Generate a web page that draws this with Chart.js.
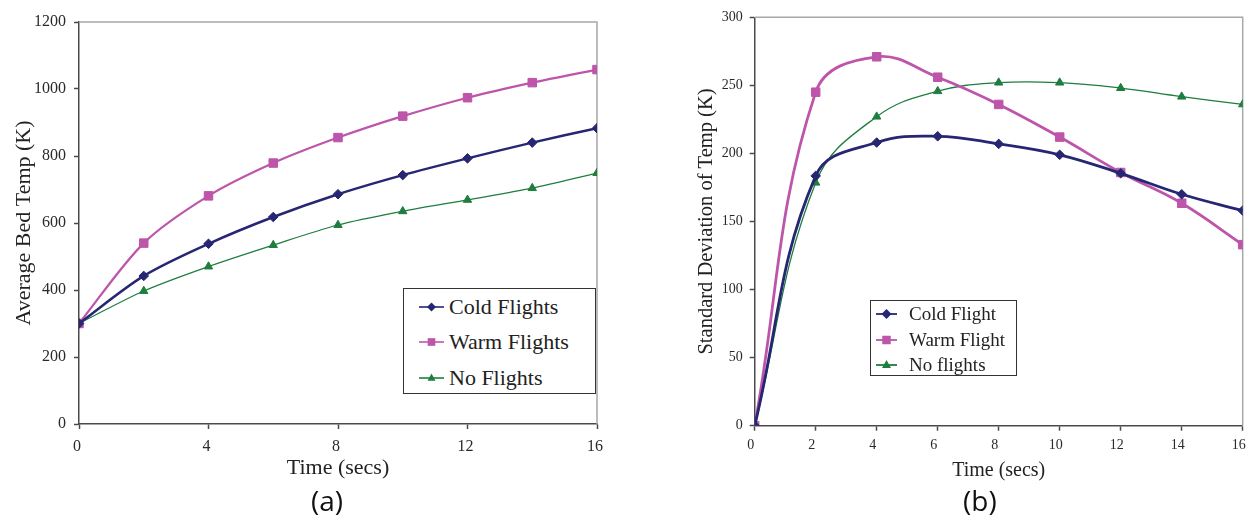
<!DOCTYPE html>
<html>
<head>
<meta charset="utf-8">
<script src="https://cdn.jsdelivr.net/npm/chart.js@4"></script>
<style>
  html,body{margin:0;padding:0;background:#fff;overflow:hidden;}
  #wrap{position:relative;width:1248px;height:519px;overflow:hidden;background:#fff;}
  .pane{position:absolute;top:0;}
  .legend{position:absolute;border:1.5px solid #333;background:#fff;box-sizing:border-box;font-family:"Liberation Serif",serif;color:#222;}
  .row{position:absolute;left:0;white-space:nowrap;display:flex;align-items:center;}
  .tag{position:absolute;font-family:"Open Sans",sans-serif;font-size:28px;line-height:28px;color:#111;}
</style>
</head>
<body>
<div id="wrap">
  <div class="pane" style="left:0;width:620px;height:519px;"><canvas id="chartA" width="620" height="519"></canvas></div>
  <div class="pane" style="left:620px;width:640px;height:519px;"><canvas id="chartB" width="640" height="519"></canvas></div>
  <div id="legendA" class="legend" style="left:403px;top:288px;width:193px;height:106px;font-size:22px;"></div>
  <div id="legendB" class="legend" style="left:870px;top:300px;width:147px;height:76px;font-size:19px;"></div>
  <div class="tag" style="left:311px;top:486px;">(a)</div>
  <div class="tag" style="left:963px;top:486px;">(b)</div>
</div>
<script>
// ---------- data ----------
const time = [0, 2, 4, 6, 8, 10, 12, 14, 16];

// (a) Average bed temperature (K)
const avgCold = [300, 442, 538, 618, 686, 743, 793, 840, 883];
const avgWarm = [300, 540, 681, 779, 855, 919, 974, 1019, 1058];
const avgNone = [300, 397, 470, 534, 594, 635, 669, 704, 749];

// (b) Standard deviation of temperature (K)
const sdCold = [0, 183.5, 208, 212.6, 207, 199, 185.4, 170, 158];
const sdWarm = [0, 245, 271, 256, 236, 212, 186, 163.4, 133];
const sdNone = [0, 178.5, 227, 245.7, 252, 252, 248, 241.7, 236];

const namesA = ['Cold Flights', 'Warm Flights', 'No Flights'];
const namesB = ['Cold Flight', 'Warm Flight', 'No flights'];

const xTicksA = [0, 4, 8, 12, 16];
const yTicksA = [0, 200, 400, 600, 800, 1000, 1200];
const xTicksB = [0, 2, 4, 6, 8, 10, 12, 14, 16];
const yTicksB = [0, 50, 100, 150, 200, 250, 300];

// ---------- styles ----------
const COLD = '#262672', WARM = '#bd55aa', NONE = '#1e7d3f';
const AXIS = '#4a4a4a';
Chart.defaults.font.family = '"Liberation Serif", serif';
Chart.defaults.color = '#333';

const pts = (ys) => time.map((t, i) => ({x: t, y: ys[i]}));

const framePlugin = {
  id: 'frame',
  beforeDatasetsDraw(chart) {
    const {ctx, chartArea: a} = chart;
    ctx.save();
    ctx.strokeStyle = '#a8a8a8';
    ctx.lineWidth = 1.5;
    ctx.beginPath();
    ctx.moveTo(a.left, a.top);
    ctx.lineTo(a.right, a.top);
    ctx.lineTo(a.right, a.bottom);
    ctx.stroke();
    ctx.restore();
  }
};

function ds(label, ys, color, style, radius, width, tension) {
  return {
    label, data: pts(ys),
    borderColor: color, backgroundColor: color,
    pointBackgroundColor: color, pointBorderColor: color,
    pointStyle: style, pointRadius: radius, pointBorderWidth: 1,
    borderWidth: width, tension: tension, fill: false
  };
}

function makeScales(o) {
  return {
    x: {
      type: 'linear', min: 0, max: 16,
      afterFit: s => { s.height = o.xH; },
      afterBuildTicks: s => { s.ticks = o.xT.map(v => ({value: v})); },
      grid: {display: true, drawOnChartArea: false, drawTicks: true, tickLength: 5, tickColor: AXIS, tickWidth: 1.5},
      border: {color: AXIS, width: 1.5},
      ticks: {padding: o.xPad, labelOffset: o.xLabelOffset, color: '#2a2a2a', font: {size: o.tickSize}, maxRotation: 0, autoSkip: false, callback: v => String(v)},
      title: {display: true, text: 'Time (secs)', color: '#222', font: {size: o.xTitleSize}, padding: {top: 0, bottom: o.xTitlePad}}
    },
    y: {
      type: 'linear', min: 0, max: o.yMax,
      afterFit: s => { s.width = o.yW; },
      afterBuildTicks: s => { s.ticks = o.yT.map(v => ({value: v})); },
      grid: {display: true, drawOnChartArea: false, drawTicks: true, tickLength: 5, tickColor: AXIS, tickWidth: 1.5},
      border: {color: AXIS, width: 1.5},
      ticks: {padding: o.yPad, color: '#2a2a2a', font: {size: o.tickSize}, autoSkip: false, callback: v => String(v)},
      title: {display: true, text: o.yTitle, color: '#222', font: {size: o.yTitleSize}, padding: {top: o.yTitlePad, bottom: 0}}
    }
  };
}

new Chart(document.getElementById('chartA'), {
  type: 'line',
  data: {datasets: [
    ds(namesA[0], avgCold, COLD, 'rectRot', 4.8, 2.5, 0.3),
    ds(namesA[1], avgWarm, WARM, 'rect', 6, 2.2, 0.3),
    ds(namesA[2], avgNone, NONE, 'triangle', 4.8, 1.2, 0.3)
  ]},
  options: {
    responsive: false, animation: false,
    layout: {padding: {left: 0, top: 22, right: 23, bottom: 0}},
    plugins: {legend: {display: false}, tooltip: {enabled: false}},
    scales: makeScales({xH: 95, xT: xTicksA, xPad: 8, xLabelOffset: -2, tickSize: 16, xTitleSize: 22, xTitlePad: 38,
      yMax: 1200, yW: 79, yT: yTicksA, yPad: 8, yTitle: 'Average Bed Temp (K)', yTitleSize: 22, yTitlePad: 11})
  },
  plugins: [framePlugin]
});

new Chart(document.getElementById('chartB'), {
  type: 'line',
  data: {datasets: [
    ds(namesB[0], sdCold, COLD, 'rectRot', 4.8, 2.8, 0.4),
    ds(namesB[1], sdWarm, WARM, 'rect', 6, 2.8, 0.4),
    ds(namesB[2], sdNone, NONE, 'triangle', 4.8, 1.3, 0.4)
  ]},
  options: {
    responsive: false, animation: false,
    layout: {padding: {left: 0, top: 17.3, right: 17.3, bottom: 0}},
    plugins: {legend: {display: false}, tooltip: {enabled: false}},
    scales: makeScales({xH: 93.3, xT: xTicksB, xPad: 6, xLabelOffset: -4, tickSize: 14, xTitleSize: 20, xTitlePad: 36,
      yMax: 300, yW: 134.7, yT: yTicksB, yPad: 7, yTitle: 'Standard Deviation of Temp (K)', yTitleSize: 20.5, yTitlePad: 74})
  },
  plugins: [framePlugin]
});

// ---------- HTML legends ----------
function markerSvg(style, color, w, h, r, lw) {
  const cx = w / 2, cy = h / 2;
  let m = '';
  if (style === 'rectRot') m = `<polygon points="${cx},${cy-r} ${cx+r},${cy} ${cx},${cy+r} ${cx-r},${cy}" fill="${color}"/>`;
  else if (style === 'rect') { const s = r * 0.85; m = `<rect x="${cx-s}" y="${cy-s}" width="${2*s}" height="${2*s}" fill="${color}"/>`; }
  else m = `<polygon points="${cx},${cy-r} ${cx+r*0.9},${cy+r*0.6} ${cx-r*0.9},${cy+r*0.6}" fill="${color}"/>`;
  return `<svg width="${w}" height="${h}" style="display:block"><line x1="0" y1="${cy}" x2="${w}" y2="${cy}" stroke="${color}" stroke-width="${lw}"/>${m}</svg>`;
}
function buildLegend(id, names, rowsY, symLeft, symW, textLeft, r, lw) {
  const el = document.getElementById(id);
  const colors = [COLD, WARM, NONE];
  const styles = ['rectRot', 'rect', 'triangle'];
  names.forEach((n, i) => {
    const row = document.createElement('div');
    row.className = 'row';
    row.style.top = (rowsY[i] - 15) + 'px';
    row.style.height = '30px';
    row.innerHTML = `<div style="position:absolute;left:${symLeft}px;top:9px">${markerSvg(styles[i], colors[i], symW, 12, r, lw)}</div>` +
      `<span style="position:absolute;left:${textLeft}px;top:0;line-height:30px">${n}</span>`;
    el.appendChild(row);
  });
}
// positions relative to legend boxes
buildLegend('legendA', namesA, [17.5, 53, 88.5], 15, 25, 45, 4.5, 1.6);
buildLegend('legendB', namesB, [13, 38.5, 64], 5, 21, 38, 5, 1.8);
</script>
</body>
</html>
